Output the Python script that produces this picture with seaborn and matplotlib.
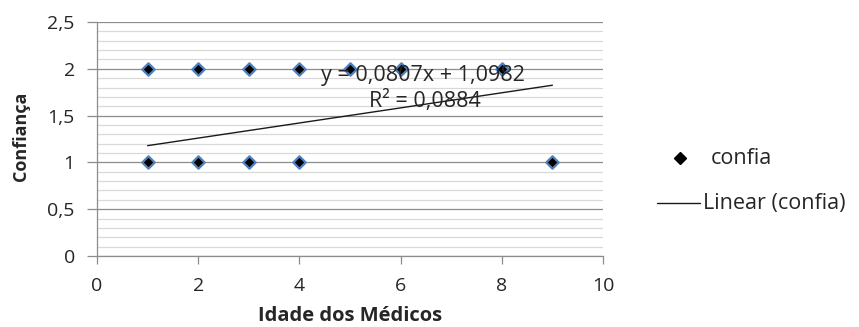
import matplotlib
matplotlib.use("Agg")
import matplotlib.pyplot as plt
from matplotlib.ticker import MultipleLocator, FuncFormatter
from matplotlib.lines import Line2D
import pandas as pd
import seaborn as sns

# Observations: age group of the doctors vs. confidence level
idade = [1, 2, 3, 4, 5, 6, 8, 1, 2, 3, 4, 9]
confia = [2, 2, 2, 2, 2, 2, 2, 1, 1, 1, 1, 1]

# Linear trendline as reported on the chart
slope = 0.0807
intercept = 1.0982
r2 = 0.0884
trend_x = [1, 9]

df = pd.DataFrame({"idade": idade, "confia": confia})
trend = pd.DataFrame({"x": trend_x,
                      "y": [slope * v + intercept for v in trend_x]})

sns.set_theme(style="white")
plt.rcParams["font.family"] = ["Open Sans", "DejaVu Sans"]

W, H = 859, 327
fig = plt.figure(figsize=(W / 100, H / 100), dpi=100)
ax = fig.add_axes([97 / W, 1 - 256 / H, (603 - 97) / W, (256 - 22) / H])

TXT = "#262626"
GRID_MAJOR = "#8c8c8c"
GRID_MINOR = "#d9d9d9"


def comma(v, pos):
    return f"{v:g}".replace(".", ",")


ax.set_xlim(0, 10)
ax.set_ylim(0, 2.5)
ax.xaxis.set_major_locator(MultipleLocator(2))
ax.yaxis.set_major_locator(MultipleLocator(0.5))
ax.yaxis.set_minor_locator(MultipleLocator(0.1))
ax.xaxis.set_major_formatter(FuncFormatter(comma))
ax.yaxis.set_major_formatter(FuncFormatter(comma))

ax.grid(which="minor", axis="y", color=GRID_MINOR, linewidth=0.9)
ax.grid(which="major", axis="y", color=GRID_MAJOR, linewidth=0.9)
ax.grid(False, axis="x")
ax.set_axisbelow(True)

for side in ("top", "right"):
    ax.spines[side].set_visible(False)
for side in ("left", "bottom"):
    ax.spines[side].set_color(GRID_MAJOR)
    ax.spines[side].set_linewidth(0.9)

ax.tick_params(axis="y", which="major", direction="out", length=7, width=0.9,
               color=GRID_MAJOR, left=True, labelsize=14, pad=9,
               labelcolor=TXT)
ax.tick_params(axis="y", which="minor", left=False)
ax.tick_params(axis="x", which="major", direction="out", length=6, width=0.9,
               color=GRID_MAJOR, bottom=True, labelsize=14, pad=9,
               labelcolor=TXT)

sns.lineplot(data=trend, x="x", y="y", ax=ax, color="#1a1a1a",
             linewidth=1.0, zorder=3)
sns.scatterplot(data=df, x="idade", y="confia", ax=ax, marker="D", s=40,
                color="black", edgecolor="#4f81bd", linewidth=1.6, zorder=4)

ax.set_xlabel("Idade dos Médicos", fontsize=14.5, fontweight="bold", color=TXT)
ax.set_ylabel("Confiança", fontsize=13, fontweight="bold", color=TXT)
ax.xaxis.set_label_coords((350 - 97) / (603 - 97), -(306 - 256) / (256 - 22))
ax.yaxis.set_label_coords(-(97 - 30) / (603 - 97), (256 - 136) / (256 - 22))

ax.text(6.44, 1.925, f"y = {slope:.4f}x + {intercept:.4f}".replace(".", ","),
        ha="center", va="center", fontsize=15.5, color=TXT, zorder=5)
ax.text(6.48, 1.66, f"R² = {r2:.4f}".replace(".", ","),
        ha="center", va="center", fontsize=15.5, color=TXT, zorder=5)

# Legend, placed to the right of the plot area (figure pixel coordinates)
def fx(px):
    return px / W


def fy(py):
    return 1 - py / H


fig.add_artist(Line2D([fx(680)], [fy(158)], marker="D", linestyle="none",
                      markersize=6, markerfacecolor="black",
                      markeredgecolor="black", transform=fig.transFigure))
fig.text(fx(711), fy(158), "confia", ha="left", va="center", fontsize=15.5,
         color=TXT)
fig.add_artist(Line2D([fx(657), fx(700)], [fy(203), fy(203)], color="#1a1a1a",
                      linewidth=1.0, transform=fig.transFigure))
fig.text(fx(703), fy(203), "Linear (confia)", ha="left", va="center",
         fontsize=15.5, color=TXT)

fig.savefig("out.png", dpi=100)
